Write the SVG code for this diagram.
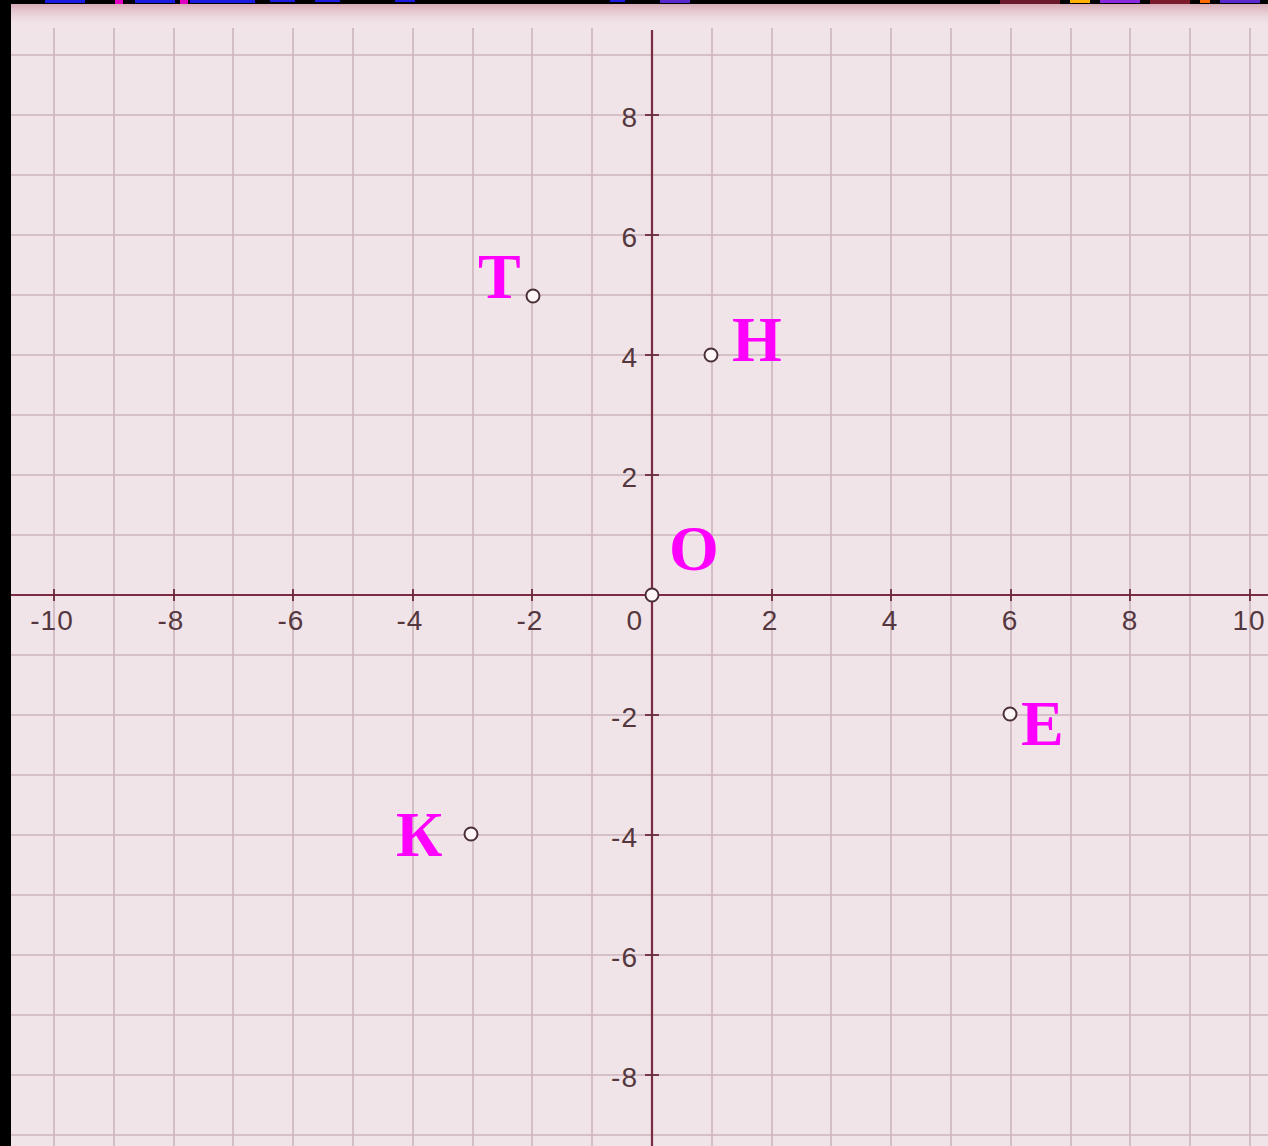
<svg xmlns="http://www.w3.org/2000/svg" width="1268" height="1146" viewBox="0 0 1268 1146">
<defs>
<linearGradient id="topfade" x1="0" y1="0" x2="0" y2="1">
<stop offset="0" stop-color="#d7aab6"/>
<stop offset="1" stop-color="#f1e4e8" stop-opacity="0"/>
</linearGradient>
<style>
.grid line{stroke:#cdb4bc;stroke-width:1.6}
.axis{stroke:#7a2c42;stroke-width:2.2;fill:none}
.tick{stroke:#6a2a3c;stroke-width:1.8}
.num{font-family:"Liberation Sans",Arial,sans-serif;font-size:28px;fill:#55383f;letter-spacing:1px}
.nx{text-anchor:middle}
.ny{text-anchor:end}
.pt{fill:#fff6f8;stroke:#4a3038;stroke-width:2}
.lbl{font-family:"Liberation Serif","Times New Roman",serif;font-weight:bold;font-size:64px;fill:#ff00ff}
</style>
</defs>
<rect x="0" y="0" width="1268" height="1146" fill="#f1e4e8"/>
<rect x="11" y="4" width="1257" height="24" fill="url(#topfade)"/>
<g class="grid" id="grid">
<line x1="54" y1="28" x2="54" y2="1146"/>
<line x1="114" y1="28" x2="114" y2="1146"/>
<line x1="174" y1="28" x2="174" y2="1146"/>
<line x1="233" y1="28" x2="233" y2="1146"/>
<line x1="293" y1="28" x2="293" y2="1146"/>
<line x1="353" y1="28" x2="353" y2="1146"/>
<line x1="413" y1="28" x2="413" y2="1146"/>
<line x1="473" y1="28" x2="473" y2="1146"/>
<line x1="532" y1="28" x2="532" y2="1146"/>
<line x1="592" y1="28" x2="592" y2="1146"/>
<line x1="712" y1="28" x2="712" y2="1146"/>
<line x1="772" y1="28" x2="772" y2="1146"/>
<line x1="831" y1="28" x2="831" y2="1146"/>
<line x1="891" y1="28" x2="891" y2="1146"/>
<line x1="951" y1="28" x2="951" y2="1146"/>
<line x1="1011" y1="28" x2="1011" y2="1146"/>
<line x1="1071" y1="28" x2="1071" y2="1146"/>
<line x1="1130" y1="28" x2="1130" y2="1146"/>
<line x1="1190" y1="28" x2="1190" y2="1146"/>
<line x1="1250" y1="28" x2="1250" y2="1146"/>
<line x1="11" y1="55" x2="1268" y2="55"/>
<line x1="11" y1="115" x2="1268" y2="115"/>
<line x1="11" y1="175" x2="1268" y2="175"/>
<line x1="11" y1="235" x2="1268" y2="235"/>
<line x1="11" y1="295" x2="1268" y2="295"/>
<line x1="11" y1="355" x2="1268" y2="355"/>
<line x1="11" y1="415" x2="1268" y2="415"/>
<line x1="11" y1="475" x2="1268" y2="475"/>
<line x1="11" y1="535" x2="1268" y2="535"/>
<line x1="11" y1="655" x2="1268" y2="655"/>
<line x1="11" y1="715" x2="1268" y2="715"/>
<line x1="11" y1="775" x2="1268" y2="775"/>
<line x1="11" y1="835" x2="1268" y2="835"/>
<line x1="11" y1="895" x2="1268" y2="895"/>
<line x1="11" y1="955" x2="1268" y2="955"/>
<line x1="11" y1="1015" x2="1268" y2="1015"/>
<line x1="11" y1="1075" x2="1268" y2="1075"/>
<line x1="11" y1="1135" x2="1268" y2="1135"/>
</g>
<g id="axes">
<line class="axis" x1="11" y1="595" x2="1268" y2="595"/>
<line class="axis" x1="652" y1="30" x2="652" y2="1146"/>
<g id="x-ticks">
<line class="tick" x1="54" y1="589" x2="54" y2="601"/>
<line class="tick" x1="174" y1="589" x2="174" y2="601"/>
<line class="tick" x1="293" y1="589" x2="293" y2="601"/>
<line class="tick" x1="413" y1="589" x2="413" y2="601"/>
<line class="tick" x1="532" y1="589" x2="532" y2="601"/>
<line class="tick" x1="772" y1="589" x2="772" y2="601"/>
<line class="tick" x1="891" y1="589" x2="891" y2="601"/>
<line class="tick" x1="1011" y1="589" x2="1011" y2="601"/>
<line class="tick" x1="1130" y1="589" x2="1130" y2="601"/>
<line class="tick" x1="1250" y1="589" x2="1250" y2="601"/>
</g>
<g id="y-ticks">
<line class="tick" x1="645" y1="115" x2="659" y2="115"/>
<line class="tick" x1="645" y1="235" x2="659" y2="235"/>
<line class="tick" x1="645" y1="355" x2="659" y2="355"/>
<line class="tick" x1="645" y1="475" x2="659" y2="475"/>
<line class="tick" x1="645" y1="715" x2="659" y2="715"/>
<line class="tick" x1="645" y1="835" x2="659" y2="835"/>
<line class="tick" x1="645" y1="955" x2="659" y2="955"/>
<line class="tick" x1="645" y1="1075" x2="659" y2="1075"/>
</g>
<g id="x-labels">
<text class="num nx" x="52" y="630">-10</text>
<text class="num nx" x="171" y="630">-8</text>
<text class="num nx" x="291" y="630">-6</text>
<text class="num nx" x="410" y="630">-4</text>
<text class="num nx" x="530" y="630">-2</text>
<text class="num ny" x="643" y="630">0</text>
<text class="num nx" x="770" y="630">2</text>
<text class="num nx" x="890" y="630">4</text>
<text class="num nx" x="1010" y="630">6</text>
<text class="num nx" x="1130" y="630">8</text>
<text class="num nx" x="1249" y="630">10</text>
</g>
<g id="y-labels">
<text class="num ny" x="638" y="127">8</text>
<text class="num ny" x="638" y="247">6</text>
<text class="num ny" x="638" y="367">4</text>
<text class="num ny" x="638" y="487">2</text>
<text class="num ny" x="638" y="727">-2</text>
<text class="num ny" x="638" y="847">-4</text>
<text class="num ny" x="638" y="967">-6</text>
<text class="num ny" x="638" y="1087">-8</text>
</g>
</g>
<g id="point-T"><circle class="pt" cx="533" cy="296" r="6.5"/><text class="lbl" x="478" y="298">Т</text></g>
<g id="point-H"><circle class="pt" cx="711" cy="355" r="6.5"/><text class="lbl" x="732" y="361">Н</text></g>
<g id="point-O"><circle class="pt" cx="652" cy="595" r="6.5"/><text class="lbl" x="669" y="570">О</text></g>
<g id="point-E"><circle class="pt" cx="1010" cy="714" r="6.5"/><text class="lbl" x="1021" y="745">Е</text></g>
<g id="point-K"><circle class="pt" cx="471" cy="834" r="6.5"/><text class="lbl" x="396" y="856">К</text></g>
<rect x="0" y="0" width="1268" height="4" fill="#000"/>
<rect x="0" y="0" width="11" height="1146" fill="#000"/>
<g id="top-fragments">
<rect x="45" y="0" width="40" height="3" fill="#1a1ae0"/>
<rect x="115" y="0" width="8" height="4" fill="#e000c0"/>
<rect x="135" y="0" width="40" height="3" fill="#1a1ae0"/>
<rect x="180" y="0" width="8" height="4" fill="#e000c0"/>
<rect x="190" y="0" width="65" height="3" fill="#1a1ae0"/>
<rect x="270" y="0" width="25" height="2" fill="#1a1ae0"/>
<rect x="315" y="0" width="25" height="2" fill="#1a1ae0"/>
<rect x="395" y="0" width="20" height="2" fill="#1a1ae0"/>
<rect x="610" y="0" width="15" height="2" fill="#1a1ae0"/>
<rect x="660" y="0" width="30" height="3" fill="#5a2ad0"/>
<rect x="1000" y="0" width="60" height="4" fill="#6a1a2a"/>
<rect x="1070" y="0" width="20" height="3" fill="#ffb000"/>
<rect x="1100" y="0" width="40" height="3" fill="#8a2ae0"/>
<rect x="1150" y="0" width="40" height="4" fill="#7a1a2a"/>
<rect x="1200" y="0" width="10" height="3" fill="#ff6a00"/>
<rect x="1220" y="0" width="40" height="3" fill="#5a2ad0"/>
</g>
</svg>
